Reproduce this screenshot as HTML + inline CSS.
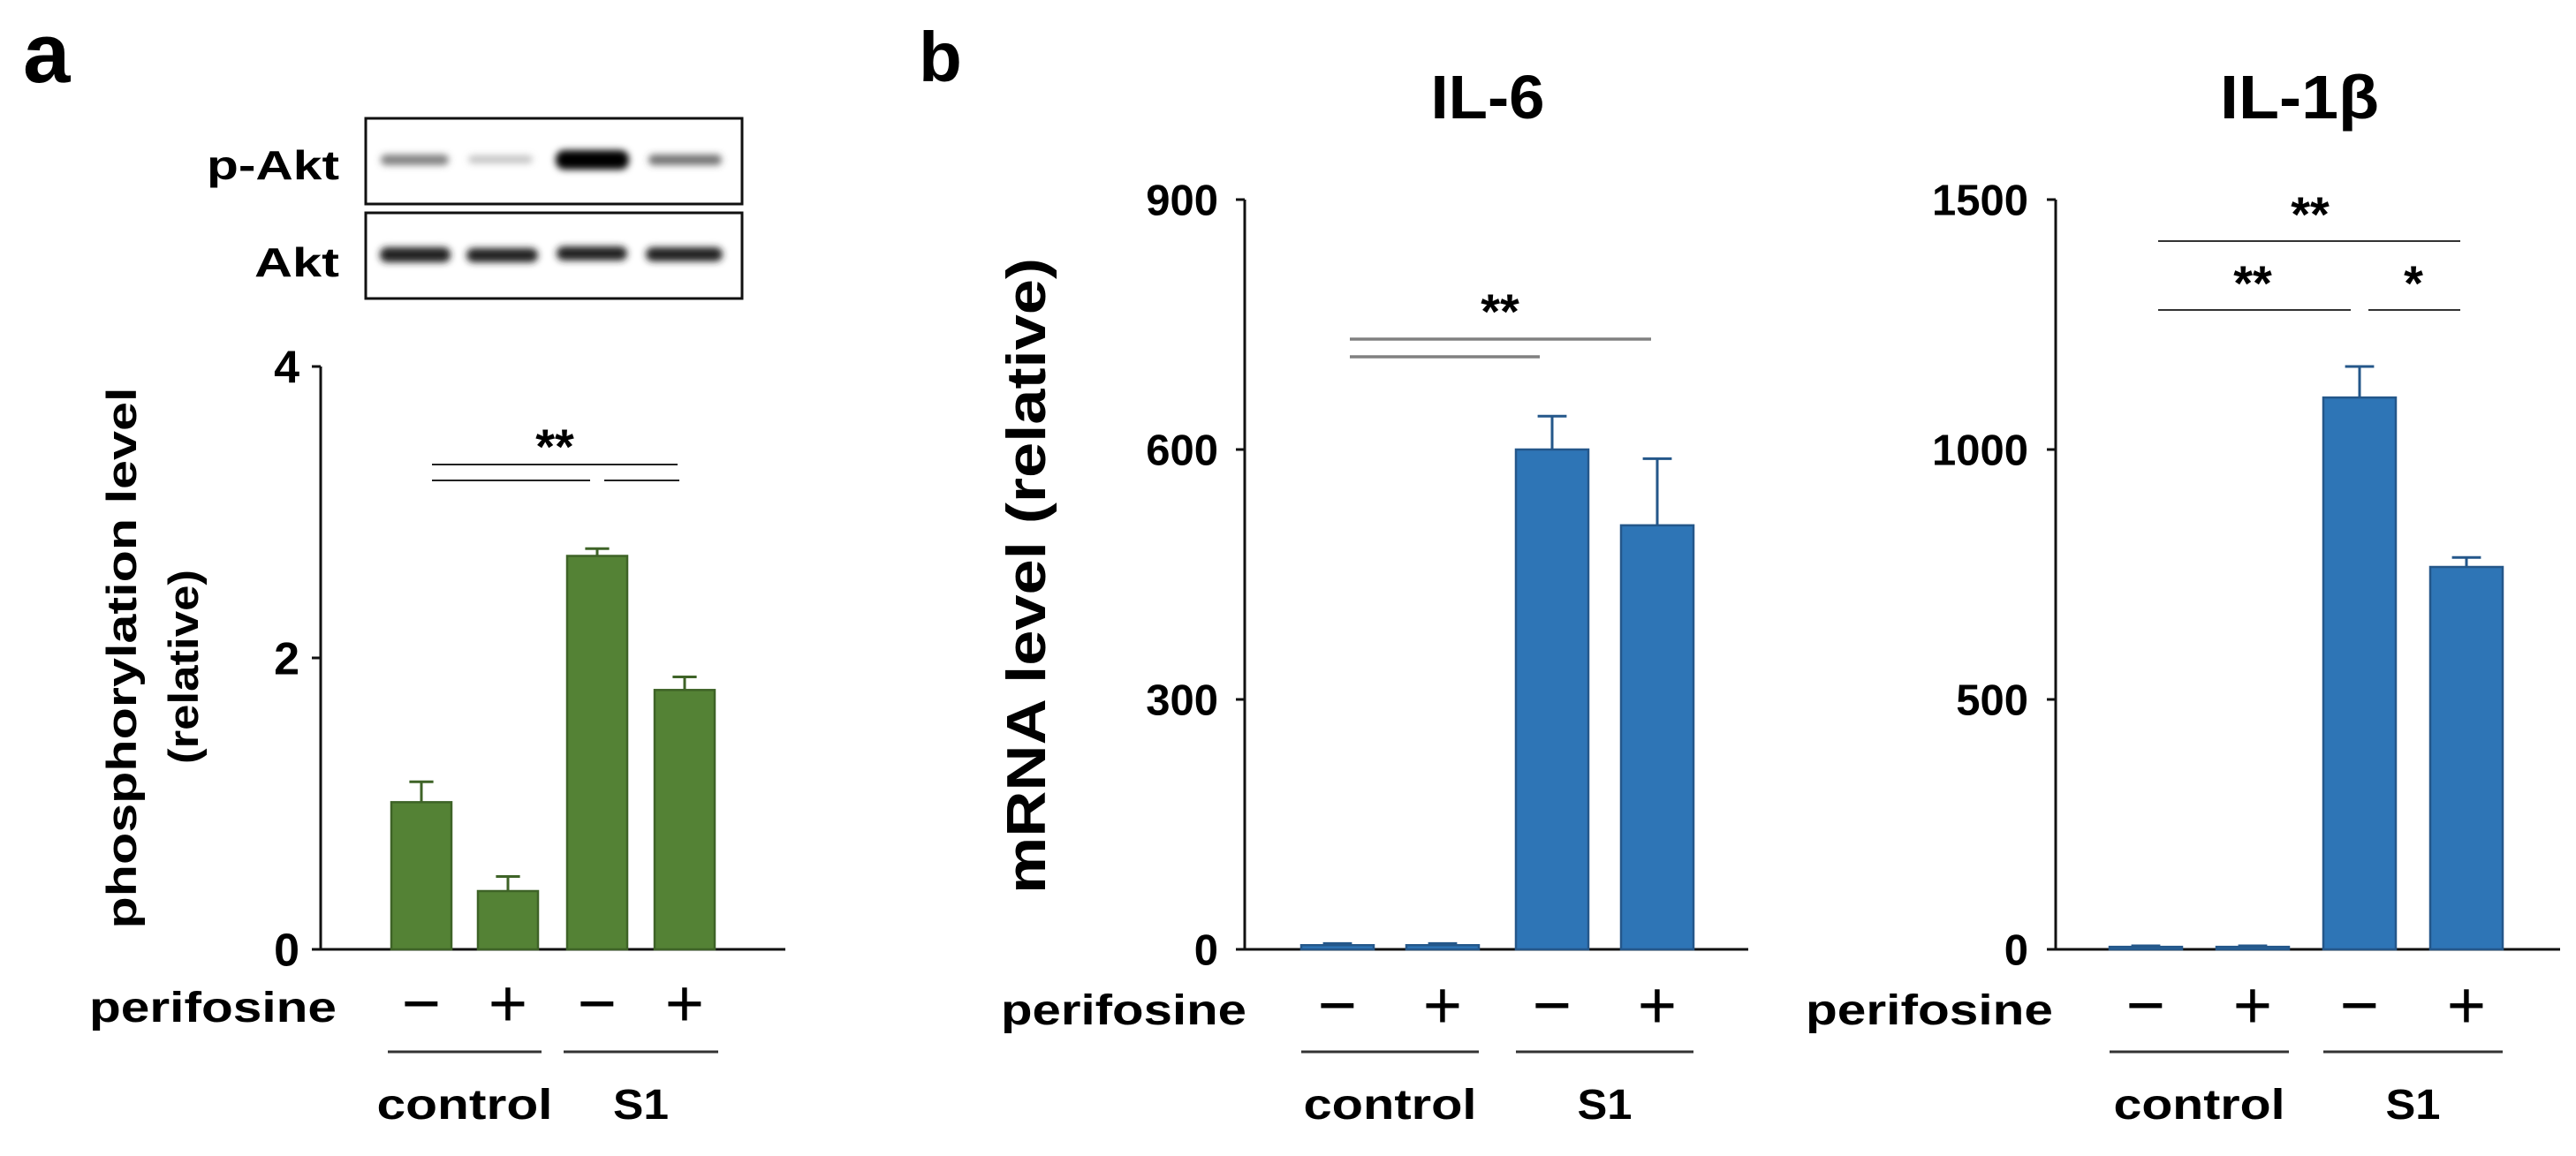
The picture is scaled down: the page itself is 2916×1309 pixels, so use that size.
<!DOCTYPE html>
<html><head><meta charset="utf-8"><style>
html,body{margin:0;padding:0;background:#fff;}
svg{display:block;font-family:"Liberation Sans",Arial,sans-serif;font-weight:bold;}
</style></head><body>
<svg id="fig" width="2916" height="1309" viewBox="0 0 2916 1309" xmlns="http://www.w3.org/2000/svg">
<defs>
<filter id="blur" x="-20%" y="-100%" width="140%" height="300%"><feGaussianBlur stdDeviation="4"/></filter>
</defs>
<text x="26" y="93" font-size="96">a</text>
<text x="1040" y="92" font-size="80">b</text>

<g>
<text x="384" y="203" font-size="46" text-anchor="end" textLength="150" lengthAdjust="spacingAndGlyphs">p-Akt</text>
<text x="384" y="313" font-size="46" text-anchor="end" textLength="96" lengthAdjust="spacingAndGlyphs">Akt</text>
<rect x="414" y="134" width="426" height="97" fill="#fff" stroke="#111" stroke-width="3"/>
<rect x="414" y="241" width="426" height="97" fill="#fff" stroke="#111" stroke-width="3"/>
<g filter="url(#blur)">
<rect x="431" y="175" width="77" height="12" rx="6" fill="#555" opacity="0.75"/>
<rect x="530" y="176" width="73" height="9" rx="5" fill="#888" opacity="0.5"/>
<rect x="629" y="170" width="83" height="22" rx="10" fill="#000"/>
<rect x="734" y="175" width="83" height="12" rx="6" fill="#444" opacity="0.75"/>
<rect x="430" y="280" width="80" height="17" rx="8" fill="#222"/>
<rect x="528" y="281" width="81" height="16" rx="8" fill="#222"/>
<rect x="630" y="279" width="80" height="16" rx="8" fill="#222"/>
<rect x="731" y="280" width="87" height="16" rx="8" fill="#222"/>
</g>
</g>

<g id="pa"></g>
<g id="pb1"></g>
<g id="pb2"></g>
</svg>
<script>
// Panel a data
const aTicks = [0, 2, 4];
const aValues = [1.01, 0.40, 2.70, 1.78];
const aErrors = [0.14, 0.10, 0.05, 0.09];
// IL-6 data
const il6Ticks = [0, 300, 600, 900];
const il6Values = [5, 5, 600, 509];
const il6Errors = [2, 2, 40, 80];
// IL-1b data
const il1bTicks = [0, 500, 1000, 1500];
const il1bValues = [5, 5, 1104, 765];
const il1bErrors = [2, 2, 62, 19];
const perifosineSigns = ["\u2212", "+", "\u2212", "+"];
const groupLabels = ["control", "S1"];

const NS = "http://www.w3.org/2000/svg";
function mk(parent, tag, attrs, text) {
  const e = document.createElementNS(NS, tag);
  for (const k in attrs) e.setAttribute(k, attrs[k]);
  if (text !== undefined) e.textContent = text;
  parent.appendChild(e);
  return e;
}

function drawChart(g, cfg) {
  const y = v => cfg.y0 - (v - cfg.vmin) / (cfg.vmax - cfg.vmin) * (cfg.y0 - cfg.yTop);
  let ax = mk(g, "line", {x1: cfg.ax, y1: y(cfg.vmax), x2: cfg.ax, y2: cfg.y0 + 1, stroke: "#111", "stroke-width": 3});
  
  
  let bx = mk(g, "line", {x1: cfg.ax - 10, y1: cfg.y0, x2: cfg.axEnd, y2: cfg.y0, stroke: "#111", "stroke-width": 3});
  
  
  cfg.ticks.forEach(t => {
    let tk = mk(g, "line", {x1: cfg.ax - 10, y1: y(t), x2: cfg.ax, y2: y(t), stroke: "#111", "stroke-width": 3});
    
    
    let tl = mk(g, "text", {x: cfg.tickRight, y: y(t) + cfg.tickFs * 0.36, "font-size": cfg.tickFs, "text-anchor": "end"}, String(t));
    
    
  });
  cfg.values.forEach((v, i) => {
    const x0 = cfg.barX[i], w = cfg.barW;
    const top = y(v), cx = x0 + w / 2, et = y(v + cfg.errors[i]);
    let er = mk(g, "line", {x1: cx, y1: top, x2: cx, y2: et, stroke: cfg.stroke, "stroke-width": 3});
    
    
    let ec = mk(g, "line", {x1: cx - w * 0.2, y1: et, x2: cx + w * 0.2, y2: et, stroke: cfg.stroke, "stroke-width": 3});
    
    
    let b = mk(g, "rect", {x: x0, y: top, width: w, height: Math.max(cfg.y0 - top, 1), fill: cfg.fill, stroke: cfg.stroke, "stroke-width": 2.5});
    
    
    let sg = mk(g, "text", {x: cx, y: cfg.signY, "font-size": 76, "text-anchor": "middle", "font-weight": "normal"}, perifosineSigns[i]);
    
    
  });
  let pl = mk(g, "text", {x: cfg.perifX, y: cfg.perifY, "font-size": cfg.lblFs, textLength: cfg.perifW, lengthAdjust: "spacingAndGlyphs"}, "perifosine");
  
  
  [[0, 1], [2, 3]].forEach((p, gi) => {
    const xa = cfg.barX[p[0]] - cfg.ulPad, xb = cfg.barX[p[1]] + cfg.barW + cfg.ulPad;
    let ul = mk(g, "line", {x1: xa, y1: cfg.ulY, x2: xb, y2: cfg.ulY, stroke: "#333", "stroke-width": 3});
    
    
    let gl = mk(g, "text", {x: (xa + xb) / 2, y: cfg.grpY, "font-size": cfg.lblFs, "text-anchor": "middle", textLength: groupLabels[gi] === "control" ? cfg.ctrlW : cfg.s1W, lengthAdjust: "spacingAndGlyphs"}, groupLabels[gi]);
    
    
  });
  cfg.sig.lines.forEach(l => {
    let sl = mk(g, "line", {x1: l[0], y1: l[2], x2: l[1], y2: l[2], stroke: cfg.sig.color, "stroke-width": cfg.sig.w});
    
    
  });
  cfg.sig.stars.forEach(s => {
    let st = mk(g, "text", {x: s[0], y: s[1], "font-size": cfg.sig.fs, "text-anchor": "middle"}, s[2]);
    
    
  });
}

drawChart(document.getElementById("pa"), {
  ticks: aTicks, values: aValues, errors: aErrors, vmin: 0, vmax: 4, y0: 1075, yTop: 415,
  ax: 363, axEnd: 889, tickRight: 339, tickFs: 52,
  barX: [443, 541, 642, 741], barW: 68, fill: "#548235", stroke: "#3e6327",
  signY: 1162, perifX: 101, perifY: 1157, perifW: 280, lblFs: 48,
  ulY: 1191, ulPad: 4, grpY: 1267, ctrlW: 199, s1W: 63,
  sig: {color: "#222", w: 2, fs: 56, lines: [[489, 767, 526], [489, 668, 544], [684, 769, 544]], stars: [[628, 525, "**"]]}
});
drawChart(document.getElementById("pb1"), {
  ticks: il6Ticks, values: il6Values, errors: il6Errors, vmin: 0, vmax: 900, y0: 1075, yTop: 226,
  ax: 1409, axEnd: 1979, tickRight: 1379, tickFs: 49,
  barX: [1473, 1592, 1716, 1835], barW: 82, fill: "#2e75b6", stroke: "#24578a",
  signY: 1164, perifX: 1133, perifY: 1160, perifW: 278, lblFs: 48,
  ulY: 1191, ulPad: 0, grpY: 1267, ctrlW: 196, s1W: 62,
  sig: {color: "#808080", w: 3.5, fs: 56, lines: [[1528, 1869, 384], [1528, 1743, 404]], stars: [[1698, 372, "**"]]}
});
drawChart(document.getElementById("pb2"), {
  ticks: il1bTicks, values: il1bValues, errors: il1bErrors, vmin: 0, vmax: 1500, y0: 1075, yTop: 226,
  ax: 2327, axEnd: 2898, tickRight: 2296, tickFs: 49,
  barX: [2388, 2509, 2630, 2751], barW: 82, fill: "#2e75b6", stroke: "#24578a",
  signY: 1164, perifX: 2044, perifY: 1160, perifW: 280, lblFs: 48,
  ulY: 1191, ulPad: 0, grpY: 1267, ctrlW: 194, s1W: 62,
  sig: {color: "#333", w: 2, fs: 56, lines: [[2443, 2785, 273], [2443, 2661, 351], [2681, 2785, 351]], stars: [[2615, 262, "**"], [2550, 340, "**"], [2732, 340, "*"]]}
});

const fig = document.getElementById("fig");
function addText(attrs, txt, name) {
  const e = document.createElementNS(NS, "text");
  for (const k in attrs) e.setAttribute(k, attrs[k]);
  e.textContent = txt;
  
  
  fig.appendChild(e);
}
addText({x: 0, y: 0, "font-size": 47, "text-anchor": "middle", transform: "translate(154,745) rotate(-90)", textLength: 613, lengthAdjust: "spacingAndGlyphs"}, "phosphorylation level", "y-axis-title-line1");
addText({x: 0, y: 0, "font-size": 47, "text-anchor": "middle", transform: "translate(224,755) rotate(-90)", textLength: 220, lengthAdjust: "spacingAndGlyphs"}, "(relative)", "y-axis-title-line2");
addText({x: 0, y: 0, "font-size": 62, "text-anchor": "middle", transform: "translate(1183,652) rotate(-90)", textLength: 720, lengthAdjust: "spacingAndGlyphs"}, "mRNA level (relative)", "y-axis-title-mrna");
addText({x: 1684, y: 134, "font-size": 70, "text-anchor": "middle", textLength: 129, lengthAdjust: "spacingAndGlyphs"}, "IL-6", "il6-title");
addText({x: 2603, y: 134, "font-size": 70, "text-anchor": "middle", textLength: 180, lengthAdjust: "spacingAndGlyphs"}, "IL-1β", "il1b-title");
</script>
</body></html>
